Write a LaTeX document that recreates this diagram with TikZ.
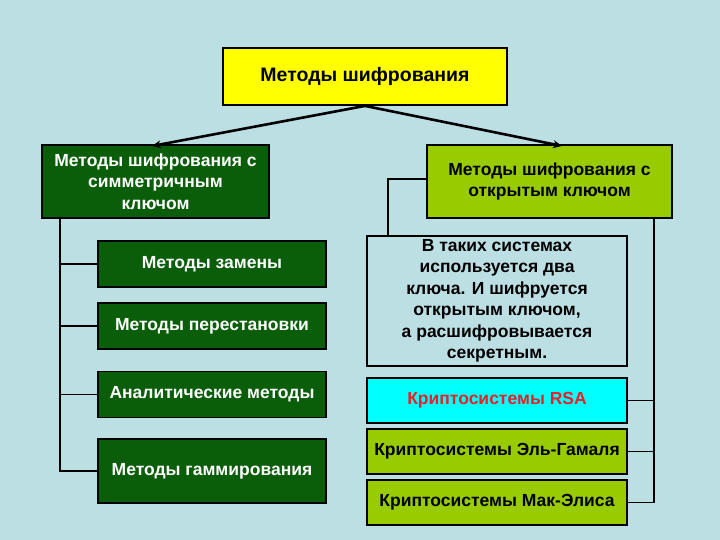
\documentclass[tikz,border=0pt]{standalone}
\usepackage{fontspec}
\setmainfont{Liberation Sans}
\usetikzlibrary{arrows.meta}
\definecolor{bg}{HTML}{BCDFE4}
\definecolor{dgreen}{HTML}{0A5E0A}
\definecolor{lgreen}{HTML}{99CC00}
\definecolor{rsared}{HTML}{E8202A}
\definecolor{cyanbox}{HTML}{00FFFF}
\definecolor{yel}{HTML}{FFFF00}
\tikzset{
  box/.style={draw=black, line width=1.8pt, inner sep=0pt, align=center, font=\fontsize{17.5}{21.5}\selectfont\bfseries},
  dbox/.style={box, fill=dgreen, text=white},
  gbox/.style={box, fill=lgreen, text=black},
  conn/.style={draw=black, line width=1.8pt},
  arr/.style={draw=black, line width=2.6pt, -{Stealth[length=9pt,width=8pt]}}
}
\begin{document}
\begin{tikzpicture}[x=1pt,y=-1pt]
\fill[bg] (0,0) rectangle (720,540);
\useasboundingbox (0,0) rectangle (720,540);

\node[box, fill=yel, minimum width=284pt, minimum height=57pt, font=\fontsize{19.5}{23}\selectfont\bfseries] (top) at (365,76.5) {Методы шифрования};

\node[dbox, minimum width=227pt, minimum height=73pt] (sym) at (155.5,181.5) {Методы шифрования с\\симметричным\\ключом};
\node[gbox, minimum width=245pt, minimum height=73pt] (pub) at (549.5,181.5) {Методы шифрования с\\открытым ключом};

\draw[arr] (top.south) -- (152,146);
\draw[arr] (top.south) -- (562,146);

\node[dbox, minimum width=228pt, minimum height=46pt] (l1) at (212,264) {Методы замены};
\node[dbox, minimum width=228pt, minimum height=46pt] (l2) at (212,326) {Методы перестановки};
\node[dbox, minimum width=228pt, minimum height=46pt] (l3) at (212,394.5) {Аналитические методы};
\node[dbox, minimum width=228pt, minimum height=64pt] (l4) at (212,471) {Методы гаммирования};

\coordinate (lv) at (60,218);
\draw[conn] (lv) -- (60,471) -- (l4.west);
\draw[conn] (60,264) -- (l1.west);
\draw[conn] (60,326) -- (l2.west);
\draw[conn] (60,394.5) -- (l3.west);

\node[box, fill=bg, minimum width=260pt, minimum height=130pt, text=black] (txt) at (497,301) {В таких системах\\используется два\\ключа. И шифруется\\открытым ключом,\\а расшифровывается\\секретным.};
\node[box, fill=cyanbox, text=rsared, minimum width=260pt, minimum height=45pt] (rsa) at (497,400.5) {Криптосистемы RSA};
\node[gbox, minimum width=260pt, minimum height=45pt] (elg) at (497,451.5) {Криптосистемы Эль-Гамаля};
\node[gbox, minimum width=260pt, minimum height=45pt] (mak) at (497,502.5) {Криптосистемы Мак-Элиса};

\draw[conn] (pub.west |- 0,179) -- (388,179) -- (388,236);
\draw[conn] (654,218) -- (654,502.5) -- (mak.east);
\draw[conn] (654,400.5) -- (rsa.east);
\draw[conn] (654,451.5) -- (elg.east);
\end{tikzpicture}
\end{document}
